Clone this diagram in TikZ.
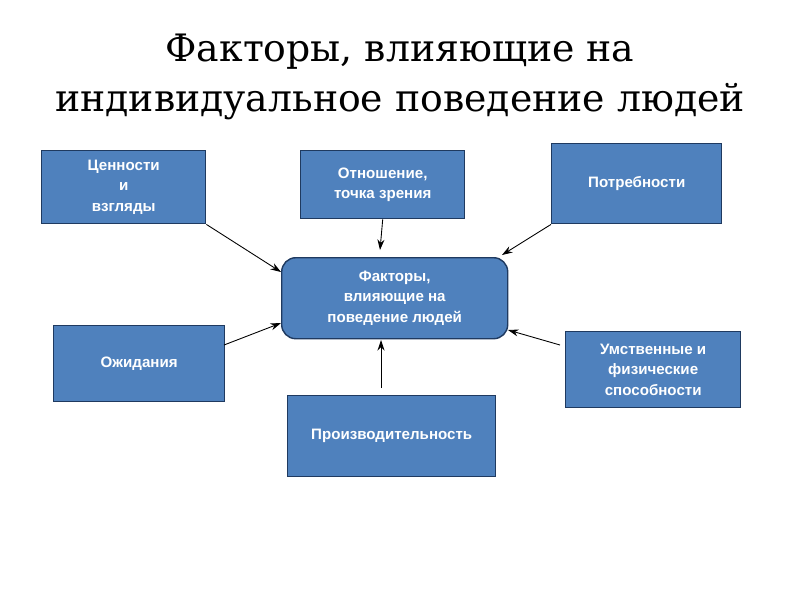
\documentclass[tikz,border=0pt]{standalone}
\usepackage{fontspec}
\setmainfont{Liberation Sans}
\newfontfamily\titlefont{DejaVu Serif}
\usetikzlibrary{arrows.meta}
\definecolor{boxfill}{HTML}{4F81BD}
\definecolor{boxline}{HTML}{1F3A60}
\tikzset{
  x=0.02cm,y=-0.02cm,
  fbox/.style={draw=boxline,line width=0.8pt,fill=boxfill,text=white,font=\bfseries\fontsize{8.6}{11.5}\selectfont,align=center,anchor=north west,inner sep=0pt},
  arr/.style={-{Stealth[length=6pt,width=4pt]},line width=0.5pt}
}
\begin{document}
\begin{tikzpicture}
\useasboundingbox (0,0) rectangle (800,600);
\node[font=\titlefont\fontsize{21.5}{28.5}\selectfont,align=center] (t) at (400,77) {Факторы, влияющие на\\индивидуальное поведение людей};
\node[fbox,minimum width=164*0.02cm,minimum height=73*0.02cm] (a) at (41,150) {Ценности\\и\\взгляды};
\node[fbox,minimum width=164*0.02cm,minimum height=68*0.02cm] (b) at (300,150) {Отношение,\\ точка зрения};
\node[fbox,minimum width=170*0.02cm,minimum height=80*0.02cm] (c) at (551,143) {Потребности};
\node[fbox,rounded corners=8pt,minimum width=226*0.02cm,minimum height=81*0.02cm] (m) at (281,257) {Факторы,\\влияющие на\\поведение людей};
\node[fbox,minimum width=171*0.02cm,minimum height=76*0.02cm] (d) at (53,325) {Ожидания};
\node[fbox,minimum width=175*0.02cm,minimum height=76*0.02cm] (e) at (565,331) {Умственные и\\физические\\способности};
\node[fbox,minimum width=208*0.02cm,minimum height=81*0.02cm] (f) at (287,395) {Производительность};
\draw[arr] (a.south east) -- (m.west |- 0,272);
\draw[arr] (b.south) -- (380,250);
\draw[arr] (c.south west) -- (502,255);
\draw[arr] (224,345) -- (281,323);
\draw[arr] (560,345) -- (508,330);
\draw[arr] (381,388) -- (381,340);
\end{tikzpicture}
\end{document}
